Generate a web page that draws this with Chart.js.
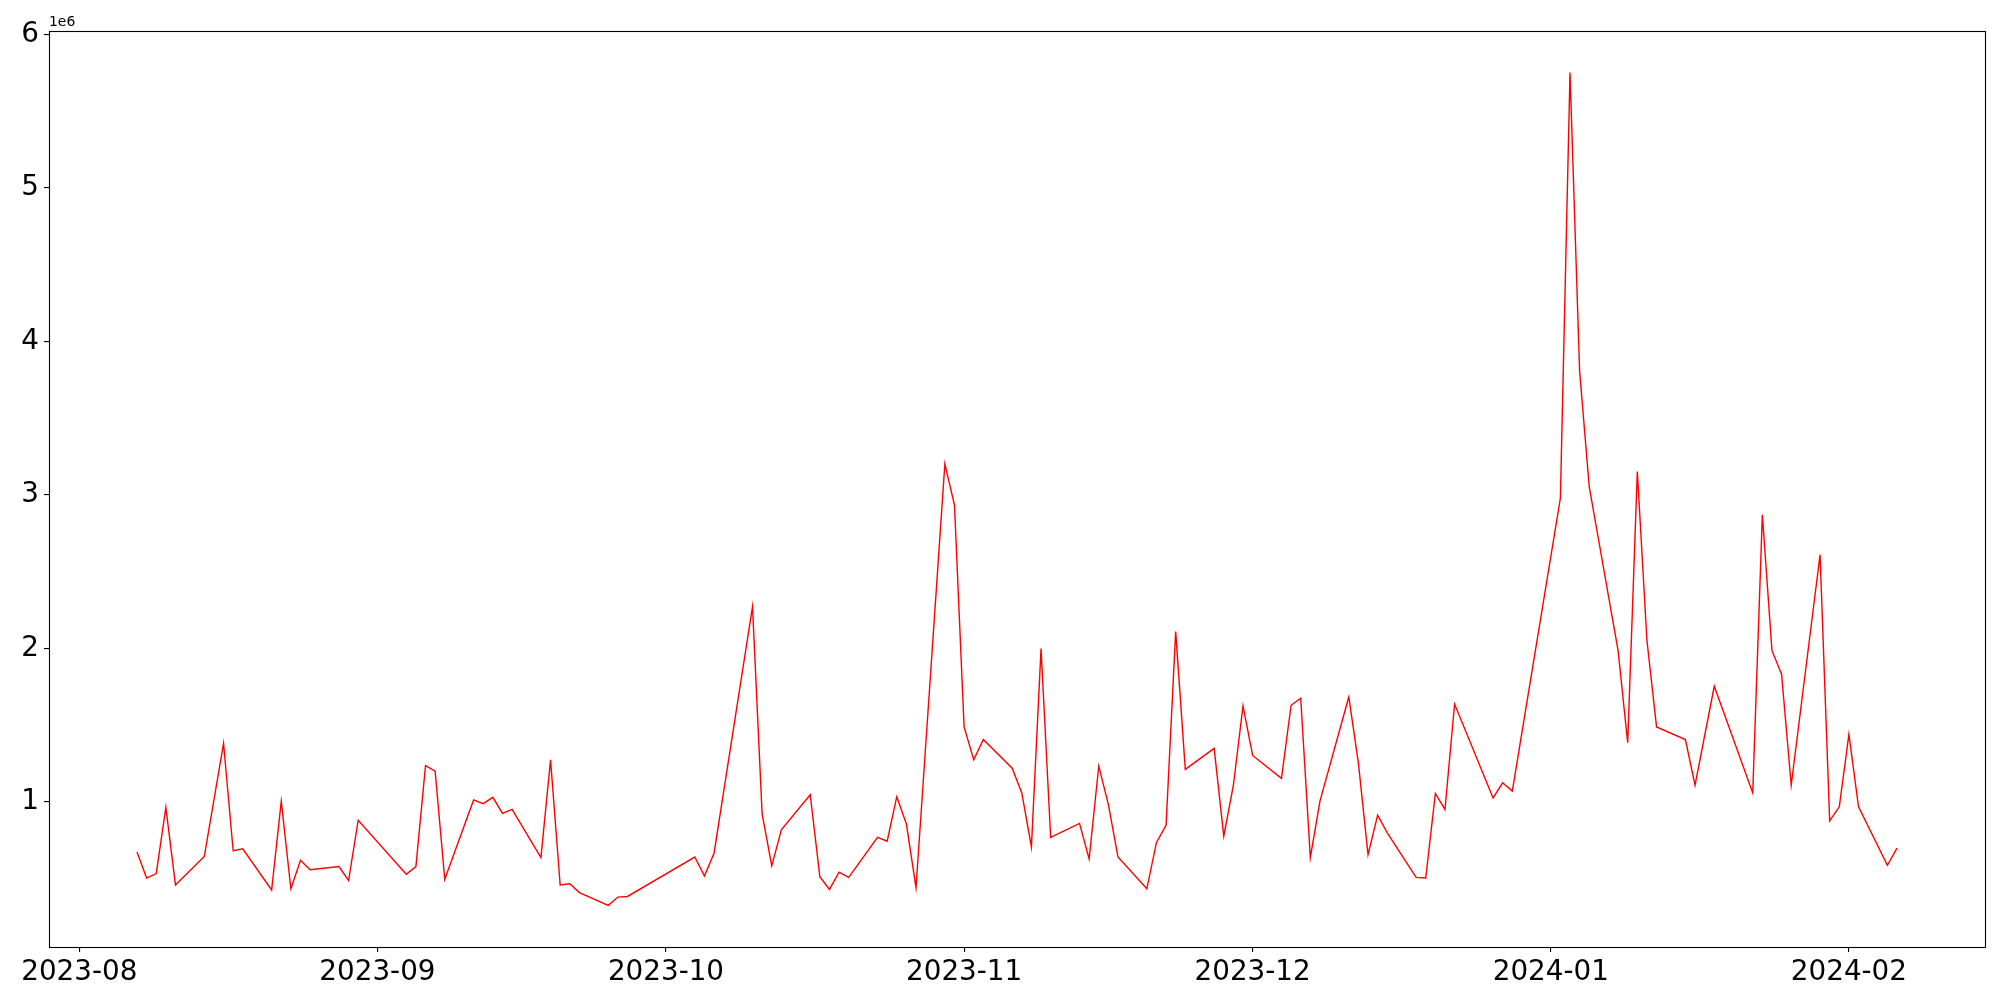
<!DOCTYPE html>
<html>
<head>
<meta charset="utf-8">
<script src="https://cdn.jsdelivr.net/npm/chart.js@4/dist/chart.umd.min.js"></script>
<style>
  html, body { margin: 0; padding: 0; background: #fff; }
  canvas { display: block; }
</style>
</head>
<body>
<canvas id="c" width="2000" height="1000"></canvas>
<script>
const dates = [
  "2023-08-07","2023-08-08","2023-08-09","2023-08-10","2023-08-11","2023-08-14","2023-08-16","2023-08-17","2023-08-18",
  "2023-08-21","2023-08-22","2023-08-23","2023-08-24","2023-08-25","2023-08-28","2023-08-29","2023-08-30",
  "2023-09-04","2023-09-05","2023-09-06","2023-09-07","2023-09-08","2023-09-11","2023-09-12","2023-09-13","2023-09-14","2023-09-15",
  "2023-09-18","2023-09-19","2023-09-20","2023-09-21","2023-09-22","2023-09-25","2023-09-26","2023-09-27",
  "2023-10-04","2023-10-05","2023-10-06","2023-10-10","2023-10-11","2023-10-12","2023-10-13","2023-10-16","2023-10-17","2023-10-18",
  "2023-10-19","2023-10-20","2023-10-23","2023-10-24","2023-10-25","2023-10-26","2023-10-27","2023-10-30","2023-10-31",
  "2023-11-01","2023-11-02","2023-11-03","2023-11-06","2023-11-07","2023-11-08","2023-11-09","2023-11-10","2023-11-13","2023-11-14",
  "2023-11-15","2023-11-16","2023-11-17","2023-11-20","2023-11-21","2023-11-22","2023-11-23","2023-11-24","2023-11-27","2023-11-28",
  "2023-11-29","2023-11-30",
  "2023-12-01","2023-12-04","2023-12-05","2023-12-06","2023-12-07","2023-12-08","2023-12-11","2023-12-12","2023-12-13","2023-12-14",
  "2023-12-15","2023-12-18","2023-12-19","2023-12-20","2023-12-21","2023-12-22","2023-12-26","2023-12-27","2023-12-28",
  "2024-01-02","2024-01-03","2024-01-04","2024-01-05","2024-01-08","2024-01-09","2024-01-10","2024-01-11","2024-01-12","2024-01-15",
  "2024-01-16","2024-01-18","2024-01-22","2024-01-23","2024-01-24","2024-01-25","2024-01-26","2024-01-29","2024-01-30","2024-01-31",
  "2024-02-01","2024-02-02","2024-02-05","2024-02-06"
];
const values = [
  673000,503000,532000,963000,458000,644000,1381000,681000,694000,
  425000,1004000,433000,619000,557000,578000,487000,880000,
  528000,578000,1236000,1199000,495000,1012000,988000,1029000,925000,950000,
  636000,1273000,458000,466000,408000,325000,379000,383000,
  640000,516000,665000,2271000,921000,582000,818000,1046000,512000,429000,
  541000,507000,768000,743000,1033000,855000,441000,3202000,2933000,
  1488000,1273000,1406000,1219000,1058000,706000,1998000,768000,859000,627000,
  1232000,983000,640000,433000,735000,847000,2109000,1211000,1348000,776000,
  1108000,1625000,
  1302000,1153000,1629000,1675000,636000,1004000,1683000,1252000,656000,913000,
  797000,507000,503000,1054000,950000,1637000,1025000,1124000,1070000,
  2978000,5752000,3806000,3053000,1985000,1385000,3152000,2051000,1488000,1406000,
  1108000,1753000,1058000,2871000,1985000,1832000,1108000,2610000,876000,967000,
  1439000,967000,586000,698000
];
const xTickLabels = ["2023-08","2023-09","2023-10","2023-11","2023-12","2024-01","2024-02"];
const yTickValues = [1000000,2000000,3000000,4000000,5000000,6000000];

const toMs = s => { const p = s.split("-").map(Number); return Date.UTC(p[0], p[1]-1, p[2] || 1); };
const points = dates.map((d, i) => ({ x: toMs(d), y: values[i] }));
const xs = points.map(p => p.x), ys = values;
const xMinD = Math.min(...xs), xMaxD = Math.max(...xs);
const yMinD = Math.min(...ys), yMaxD = Math.max(...ys);
const xm = (xMaxD - xMinD) * 0.05, ym = (yMaxD - yMinD) * 0.05;
const xTickMs = xTickLabels.map(toMs);

const FONT = "'DejaVu Sans', sans-serif";

const framePlugin = {
  id: 'frame',
  afterDraw(chart) {
    const { ctx, chartArea: a } = chart;
    ctx.save();
    ctx.strokeStyle = '#000';
    ctx.lineWidth = 1.1;
    ctx.strokeRect(Math.round(a.left) + 0.5, Math.round(a.top) + 0.5,
                   Math.round(a.right - a.left), Math.round(a.bottom - a.top));
    ctx.fillStyle = '#000';
    ctx.font = "13.9px " + FONT;
    ctx.textAlign = 'left';
    ctx.textBaseline = 'alphabetic';
    ctx.fillText('1e6', a.left, a.top - 5);
    ctx.restore();
  }
};

new Chart(document.getElementById('c'), {
  type: 'line',
  data: {
    datasets: [{
      data: points,
      borderColor: '#ff0000',
      borderWidth: 1.4,
      pointRadius: 0,
      tension: 0,
      fill: false
    }]
  },
  options: {
    responsive: false,
    animation: false,
    devicePixelRatio: 1,
    layout: { padding: { left: 0, right: 15, top: 31, bottom: 0 } },
    plugins: { legend: { display: false }, tooltip: { enabled: false } },
    scales: {
      x: {
        type: 'linear',
        min: xMinD - xm,
        max: xMaxD + xm,
        afterBuildTicks(s) { s.ticks = xTickMs.map(v => ({ value: v })); },
        afterFit(s) { s.height = 53; },
        ticks: {
          autoSkip: false, maxRotation: 0, padding: 4,
          color: '#000',
          font: { family: FONT, size: 27.8 },
          callback(v) { const i = xTickMs.indexOf(v); return i >= 0 ? xTickLabels[i] : ''; }
        },
        grid: { display: true, drawOnChartArea: false, drawTicks: true, tickLength: 5, color: '#000', lineWidth: 1.1 },
        border: { display: false }
      },
      y: {
        type: 'linear',
        min: yMinD - ym,
        max: yMaxD + ym,
        afterBuildTicks(s) { s.ticks = yTickValues.map(v => ({ value: v })); },
        afterFit(s) { s.width = 49; },
        ticks: {
          padding: 5,
          color: '#000',
          font: { family: FONT, size: 27.8 },
          callback(v) { return String(Math.round(v / 1e6)); }
        },
        grid: { display: true, drawOnChartArea: false, drawTicks: true, tickLength: 5, color: '#000', lineWidth: 1.1 },
        border: { display: false }
      }
    }
  },
  plugins: [framePlugin]
});
</script>
</body>
</html>
